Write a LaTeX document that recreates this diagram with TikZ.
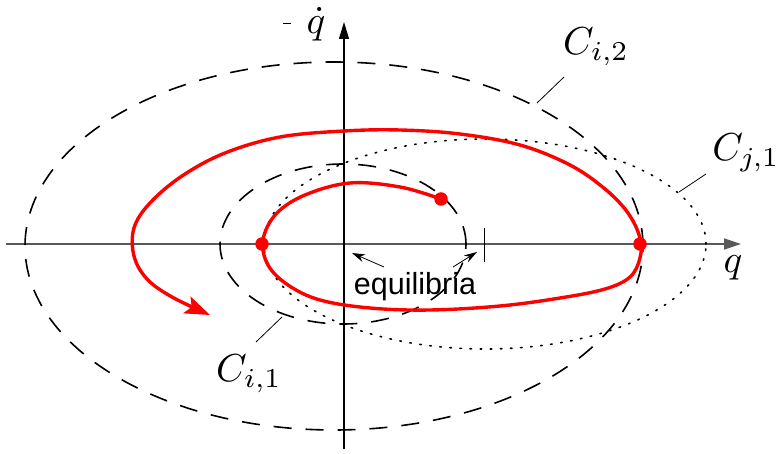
\documentclass[tikz,border=0pt]{standalone}
\usepackage{fontspec}
\newfontfamily\helv{Liberation Sans}
\usetikzlibrary{arrows.meta}
\newcommand{\bigmath}[1]{\scalebox{3.9}{$#1$}}
\begin{document}
\begin{tikzpicture}[x=1pt,y=-1pt,
  dashcurve/.style={line width=1.6pt,dash pattern=on 18pt off 14pt},
  dotcurve/.style={line width=1.6pt,dash pattern=on 1.6pt off 8.5pt,line cap=round},
  leader/.style={line width=0.8pt},
  mathlabel/.style={inner sep=0pt},
  eqarrow/.style={line width=0.8pt,-{Stealth[length=13pt,width=8pt]}},
  reddot/.style={circle,fill=red,inner sep=0pt,minimum size=13.5pt}]
\useasboundingbox (0,0) rectangle (782,454);
% axes
\coordinate (xl) at (6,244);
\coordinate (xr) at (741,244);
\coordinate (yb) at (344,449);
\coordinate (yt) at (344,22);
\draw[line width=1.5pt,black!65,-{Triangle[length=17pt,width=11pt]}] (xl) -- (xr);
\draw[line width=1.1pt,-{Triangle[length=17pt,width=10pt]}] (yb) -- (yt);
\node (qlab) at (733,268) [mathlabel] {\bigmath{q}};
\node (qdlab) at (316,24) [mathlabel] {\bigmath{\dot q}};
\coordinate (ma) at (283,23);
\coordinate (mb) at (291,23);
\draw[line width=0.9pt] (ma) -- (mb);
% tick at second equilibrium
\coordinate (ta) at (484,228);
\coordinate (tb) at (484,262);
\draw[line width=0.9pt] (ta) -- (tb);
% level curves
\draw[dashcurve] (334,246) ellipse [x radius=309pt, y radius=184pt];
\draw[dashcurve] (343,244) ellipse [x radius=123pt, y radius=80pt];
\draw[dotcurve] (485,244) ellipse [x radius=221pt, y radius=105pt];
% labels
\node (ci2) at (596,47) [mathlabel] {\bigmath{C_{i,2}}};
\node (cj1) at (746,153) [mathlabel] {\bigmath{C_{j,1}}};
\node (ci1) at (249,374) [mathlabel] {\bigmath{C_{i,1}}};
\coordinate (pi2) at (537,103);
\coordinate (pj1) at (679,192);
\coordinate (pi1) at (282,317);
\draw[leader] (pi2) -- (564,77);
\draw[leader] (pj1) -- (706,174);
\draw[leader] (pi1) -- (256,342);
% equilibria
\node (eq) at (415,287) [font=\helv\fontsize{30.5}{32}\selectfont,inner sep=0pt] {equilibria};
\coordinate (e1) at (352,253);
\coordinate (e2) at (477,252);
\draw[eqarrow] (384,267) -- (e1);
\draw[eqarrow] (453,267) -- (e2);
% trajectory
\draw[red,line width=3.4pt,line join=round,-{Stealth[length=25pt,width=18pt,inset=5pt]}]
  plot[smooth,tension=0.6] coordinates {
  (441,199) (400,187) (350,183) (305,195) (276,214) (263,240) (268,265) (288,285)
  (320,300) (370,308) (430,310) (500,306) (560,298) (605,289) (630,277) (640,258)
  (640,238) (628,213) (605,189) (570,165) (520,145) (460,134) (400,130) (344,131)
  (280,137) (225,153) (182,176) (150,203) (134,228) (134,256) (147,279) (172,297)
  (210,315)};
\node (d1) at (441,199) [reddot] {};
\node (d2) at (262,244) [reddot] {};
\node (d3) at (640,244) [reddot] {};
\end{tikzpicture}
\end{document}
